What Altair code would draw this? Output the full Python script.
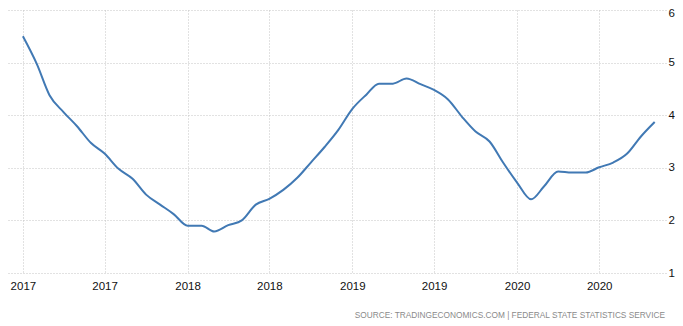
import altair as alt
import pandas as pd

months = pd.date_range("2017-01-01", periods=47, freq="MS").strftime("%Y-%m-%d").tolist()
values = [5.50, 4.97, 4.38, 4.06, 3.79, 3.47, 3.27, 2.98, 2.79, 2.49, 2.30, 2.12,
          1.90, 1.90, 1.79, 1.91, 2.00, 2.30, 2.41, 2.58, 2.81, 3.10, 3.40, 3.72,
          4.12, 4.39, 4.60, 4.60, 4.70, 4.59, 4.48, 4.30, 3.97, 3.69, 3.50, 3.10,
          2.72, 2.40, 2.65, 2.93, 2.91, 2.91, 3.01, 3.10, 3.27, 3.59, 3.87]
tick_dates = ["2017-01-01", "2017-07-01", "2018-01-01", "2018-07-01",
              "2019-01-01", "2019-07-01", "2020-01-01", "2020-07-01"]
y_ticks = [1, 2, 3, 4, 5, 6]
source_text = "SOURCE:  TRADINGECONOMICS.COM  |  FEDERAL  STATE  STATISTICS  SERVICE"

df = pd.DataFrame({"date": months, "value": values})

font = "Liberation Sans"

x_axis = alt.Axis(
    values=[alt.DateTime(year=int(d[:4]), month=int(d[5:7]), date=1) for d in tick_dates],
    format="%Y", title=None, domain=False, ticks=False,
    grid=True, gridDash=[1, 2], gridColor="#c4c4c4", gridWidth=1,
    labelFont=font, labelFontSize=11.5, labelColor="#111111", labelPadding=7,
    labelAngle=0,
)
y_axis = alt.Axis(
    values=y_ticks, orient="right", title=None, domain=False, ticks=False,
    grid=True, gridDash=[1, 2], gridColor="#c4c4c4", gridWidth=1,
    labelFont=font, labelFontSize=11.5, labelColor="#111111", labelPadding=2,
    labelOffset={"condition": {"test": "datum.value == 6", "value": 3}, "value": 0},
)

line = alt.Chart(df).mark_line(
    interpolate="monotone", color="#4179b4", strokeWidth=2
).encode(
    x=alt.X("date:T", axis=x_axis,
            scale=alt.Scale(domain=[alt.DateTime(year=2016, month=11, date=29),
                                    alt.DateTime(year=2020, month=11, date=26)])),
    y=alt.Y("value:Q", axis=y_axis, scale=alt.Scale(domain=[1, 6], nice=False, zero=False)),
)

source = alt.Chart(pd.DataFrame({"t": [source_text]})).mark_text(
    align="right", baseline="middle", font=font, fontSize=8.3, color="#8a8a8a"
).encode(
    text="t:N", x=alt.value(657), y=alt.value(305.5)
)

chart = alt.layer(line, source).properties(
    width=658, height=263,
    autosize=alt.AutoSizeParams(type="none"),
    padding={"left": 0, "top": 2, "right": 9, "bottom": 53},
).configure_view(stroke=None)

chart.save("out.html", embed_options={"renderer": "svg", "actions": False})
